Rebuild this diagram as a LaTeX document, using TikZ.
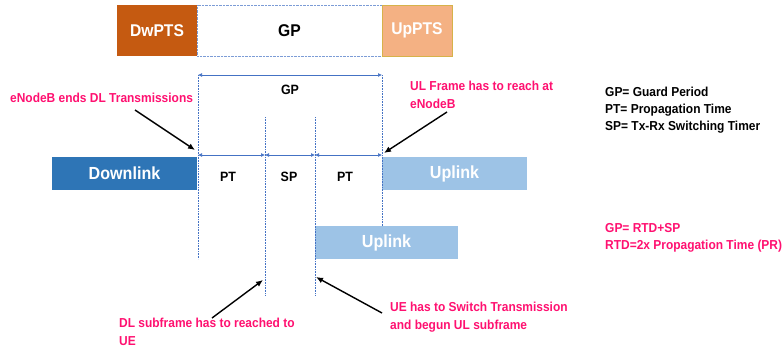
\documentclass[tikz,border=0pt]{standalone}
\usepackage{fontspec}
\setmainfont{Liberation Sans}
\newfontfamily\slimsans{Liberation Sans}[FakeStretch=0.92]
\usepackage{tikz}
\usetikzlibrary{arrows.meta, positioning}
\usepackage{xcolor}
\definecolor{DwOrange}{HTML}{C55A11}
\definecolor{UpPeach}{HTML}{F4B183}
\definecolor{UpGold}{HTML}{D6B24A}
\definecolor{DlBlue}{HTML}{2E75B6}
\definecolor{UlBlue}{HTML}{9DC3E6}
\definecolor{GapBlue}{HTML}{4472C4}
\definecolor{NotePink}{HTML}{FF1070}
\tikzset{%
  frame_block/.style={%
    rectangle,%
    inner sep=0pt,%
    outer sep=0pt,%
    minimum height=51pt,%
    text=white,%
    font={\slimsans\fontsize{17}{19}\selectfont\bfseries},%
  },
  link_block/.style={%
    rectangle,%
    inner sep=0pt,%
    outer sep=0pt,%
    minimum width=145pt,%
    minimum height=33pt,%
    text=white,%
    font={\slimsans\fontsize{17.5}{19}\selectfont\bfseries},%
  },
  gap_line/.style={%
    color=GapBlue,%
    densely dotted,%
    line width=0.6pt,%
  },
  span_arrow/.style={%
    color=GapBlue,%
    line width=0.7pt,%
    {Latex[length=4pt, width=4pt]}-{Latex[length=4pt, width=4pt]},%
  },
  span_label/.style={%
    font={\slimsans\fontsize{13.5}{15}\selectfont\bfseries},%
  },
  note/.style={%
    anchor=north west,%
    inner sep=0pt,%
    align=left,%
    text=NotePink,%
    font={\slimsans\fontsize{13}{18}\selectfont\bfseries},%
  },
  legend/.style={%
    anchor=north west,%
    inner sep=0pt,%
    align=left,%
    font={\slimsans\fontsize{13}{17}\selectfont\bfseries},%
  },
  pointer/.style={%
    color=black,%
    line width=1.4pt,%
    -{Latex[length=7pt, width=6pt]},%
  },
}

\begin{document}
\begin{tikzpicture}[x=1pt, y=-1pt]
    \useasboundingbox (0,0) rectangle (784,348);

    % special subframe
    \node[frame_block, fill=DwOrange, minimum width=80pt] (DwPTS) at (157,30.5) {DwPTS};
    \node[frame_block, minimum width=185pt, draw=GapBlue!70, densely dotted, text=black, right=0pt of DwPTS] (GPbar) {GP};
    \node[frame_block, fill=UpPeach, draw=UpGold, minimum width=70pt, right=0pt of GPbar] (UpPTS) {UpPTS};

    % frames
    \node[link_block, fill=DlBlue] (Downlink) at (124.5,173.5) {Downlink};
    \node[link_block, fill=UlBlue, anchor=west] (Uplink) at (382,173.5) {Uplink};
    \node[link_block, fill=UlBlue, minimum width=143pt, anchor=north west] (UplinkUE) at (315,226) {Uplink};

    \coordinate (GPleft) at (198,75);
    \coordinate (GPright) at (382,75);
    \coordinate (GPleftLow) at (198,259);
    \coordinate (UErx) at (265,117);
    \coordinate (UErxLow) at (265,296);
    \coordinate (UEtx) at (315,117);
    \coordinate (UEtxLow) at (315,296);
    \coordinate (PTa) at (198,155);
    \coordinate (PTb) at (265,155);
    \coordinate (SPb) at (315,155);
    \coordinate (PTc) at (382,155);

    \draw[gap_line]
      (GPleft)
      --
      (GPleftLow);
    \draw[gap_line]
      (GPright)
      --
      (GPright |- UplinkUE.north);
    \draw[gap_line]
      (UErx)
      --
      (UErxLow);
    \draw[gap_line]
      (UEtx)
      --
      (UEtxLow);

    \draw[span_arrow]
      (GPleft)
      --
      (GPright);
    \draw[span_arrow]
      (PTa)
      --
      (PTb);
    \draw[span_arrow]
      (PTb)
      --
      (SPb);
    \draw[span_arrow]
      (SPb)
      --
      (PTc);

    \node[span_label] (GPspan) at (290,90) {GP};
    \node[span_label] (PTdown) at (228,177) {PT};
    \node[span_label] (SPspan) at (289,177) {SP};
    \node[span_label] (PTup) at (345,177) {PT};

    % notes
    \node[note] (eNBstop) at (10,93) {eNodeB ends DL Transmissions};
    \node[note] (eNBreach) at (410,81) {UL Frame has to reach at\\eNodeB};
    \node[note] (UEreach) at (119,318) {DL subframe has to reached to\\UE};
    \node[note] (UEswitch) at (390,302) {UE has to Switch Transmission\\and begun UL subframe};

    \coordinate (eNBstopTail) at (135,110);
    \coordinate (eNBstopTip) at (195,150);
    \coordinate (eNBreachTail) at (447,112);
    \coordinate (eNBreachTip) at (384,153);
    \coordinate (UEreachTail) at (212,318);
    \coordinate (UEreachTip) at (263,280);
    \coordinate (UEswitchTail) at (382,313);
    \coordinate (UEswitchTip) at (316,277);

    \draw[pointer]
      (eNBstopTail)
      --
      (eNBstopTip);
    \draw[pointer]
      (eNBreachTail)
      --
      (eNBreachTip);
    \draw[pointer]
      (UEreachTail)
      --
      (UEreachTip);
    \draw[pointer]
      (UEswitchTail)
      --
      (UEswitchTip);

    % legend
    \node[legend] (Terms) at (605,87) {GP= Guard Period\\PT= Propagation Time\\SP= Tx-Rx Switching Timer};
    \node[legend, text=NotePink] (Relations) at (605,223) {GP= RTD+SP\\RTD=2x Propagation Time (PR)};

  \end{tikzpicture}
\end{document}
